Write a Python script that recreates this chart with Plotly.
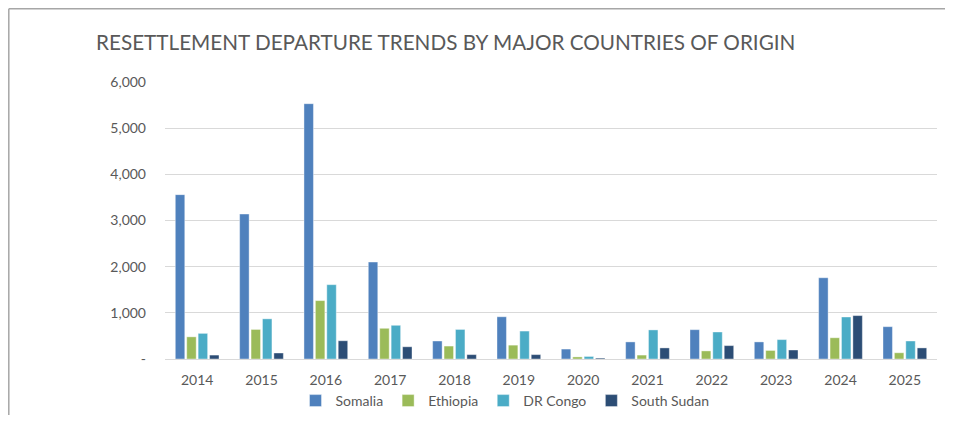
import plotly.graph_objects as go

# Данные по годам
years = ["2014", "2015", "2016", "2017", "2018", "2019",
         "2020", "2021", "2022", "2023", "2024", "2025"]
somalia = [3560, 3140, 5530, 2100, 390, 915, 215, 370, 635, 370, 1760, 700]
ethiopia = [480, 640, 1265, 665, 280, 300, 45, 85, 175, 185, 460, 135]
dr_congo = [555, 870, 1610, 730, 640, 605, 55, 630, 585, 420, 910, 390]
south_sudan = [85, 130, 395, 265, 95, 95, 20, 240, 290, 195, 940, 240]

y_ticks = [0, 1000, 2000, 3000, 4000, 5000, 6000]
y_tick_labels = ["-", "1,000", "2,000", "3,000", "4,000", "5,000", "6,000"]

series = [
    ("Somalia", somalia, "#4F81BD"),
    ("Ethiopia", ethiopia, "#9BBB59"),
    ("DR Congo", dr_congo, "#4BACC6"),
    ("South Sudan", south_sudan, "#2C4D75"),
]

OFF = 8  # отступ body страницы
W, H = 955 - 2 * OFF, 423 - 2 * OFF
L, T = 165 - OFF, 82 - OFF
R, B = W - (937 - OFF), H - (359 - OFF)
PW, PH = W - L - R, H - T - B
font = "Lato"
grey = "#595959"

fig = go.Figure()
for name, vals, color in series:
    fig.add_trace(go.Bar(
        x=years, y=vals, name=name,
        marker=dict(color=color, line=dict(color="rgba(255,255,255,0.5)", width=0.8)),
    ))

fig.update_layout(
    width=W, height=H,
    margin=dict(l=L, r=R, t=T, b=B, autoexpand=False),
    paper_bgcolor="white",
    plot_bgcolor="white",
    barmode="group",
    bargap=0.29,
    bargroupgap=0.17,
    font=dict(family=font, size=13, color=grey),
    title=dict(
        text="RESETTLEMENT DEPARTURE TRENDS BY MAJOR COUNTRIES OF ORIGIN",
        font=dict(family=font, size=20.7, color=grey),
        x=88 / W, xanchor="left", xref="container",
        y=1 - 35 / H, yanchor="middle", yref="container",
    ),
    legend=dict(
        orientation="h",
        x=(505 - OFF - L) / PW, xanchor="center",
        y=(T + PH - (401 - OFF)) / PH, yanchor="middle",
        font=dict(family=font, size=14, color=grey),
        itemwidth=30,
        traceorder="normal",
    ),
    showlegend=True,
)

fig.update_xaxes(
    showgrid=False, showline=True, linecolor="#D9D9D9", linewidth=1,
    ticks="", tickfont=dict(size=14, color=grey), ticklabelstandoff=8,
)
fig.update_yaxes(
    range=[0, 6000], tickvals=y_ticks, ticktext=y_tick_labels,
    showgrid=True, gridcolor="#D9D9D9", gridwidth=1,
    zeroline=False, showline=False, ticks="",
    tickfont=dict(size=14, color=grey), ticklabelstandoff=18,
)

# рамка диаграммы (верх и лево)
fx0 = (0.8 - L) / PW
fy0 = (T + PH - 0.8) / PH
fig.add_shape(type="line", xref="paper", yref="paper",
              x0=fx0, x1=(W - 2 - L) / PW, y0=fy0, y1=fy0,
              line=dict(color="#A6A6A6", width=1.5))
fig.add_shape(type="line", xref="paper", yref="paper",
              x0=fx0, x1=fx0, y0=fy0, y1=-B / PH,
              line=dict(color="#A6A6A6", width=1.5))

fig.write_html("out.html", config={"displayModeBar": False})
